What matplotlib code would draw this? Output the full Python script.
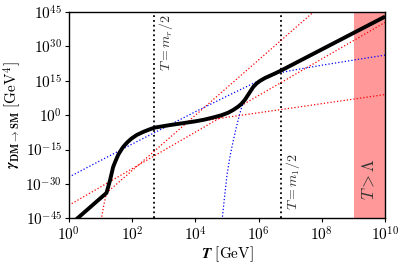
import numpy as np
import matplotlib
matplotlib.use("Agg")
import matplotlib.pyplot as plt
from matplotlib.ticker import FixedLocator, FuncFormatter, NullLocator

plt.rcParams['mathtext.fontset'] = 'cm'
plt.rcParams['font.family'] = ['DejaVu Serif']

# ---- data (log10 T, log10 gamma) ----
black_logT = [0.0, 1.19, 1.30, 1.40, 1.46, 1.56, 1.67, 1.72, 1.85, 1.98, 2.15, 2.35, 2.55, 2.72,
              3.2, 3.6, 3.99, 4.15, 4.3, 4.62, 4.83, 5.04, 5.2, 5.36, 5.46, 5.57, 5.65, 5.73,
              5.83, 5.94, 6.05, 6.2, 6.36, 6.52, 6.7, 10.0]
black_logG = [-48.25, -33.9, -28.5, -22.6, -20.5, -17.3, -14.8, -13.8, -11.8, -10.2, -8.6, -7.3, -6.2, -5.4,
              -4.3, -3.5, -2.7, -2.3, -1.9, -0.8, 0.0, 1.1, 2.3, 3.8, 5.0, 6.8, 8.5, 10.2,
              12.3, 13.9, 15.0, 16.2, 17.2, 18.2, 19.4, 43.0]

# red power laws
red1_logT = [0.0, 7.9]
red1_logG = [-48.25, 47.0]
red2_logT = [0.0, 10.0]
red2_logG = [-39.3, 40.5]
# red curve: Boltzmann rise then T^2-like tail
red3_logT = [0.98, 1.03, 1.10, 1.19, 1.30, 1.40, 1.56, 1.72, 1.98, 2.35, 2.72, 3.2, 10.0]
red3_logG = [-50.0, -45.0, -39.5, -33.9, -28.6, -22.8, -17.5, -14.0, -10.4, -7.5, -5.8, -4.5, 9.0]

# blue curves
blue1_logT = [0.0, 2.0, 4.0, 5.0, 6.0, 6.3, 6.6, 7.0, 8.0, 10.0]
blue1_logG = [-27.0, -12.6, 1.5, 8.3, 15.0, 16.8, 18.3, 19.4, 21.8, 26.2]
blue2_logT = [4.82, 4.85, 4.92, 5.0, 5.1, 5.2, 5.3, 5.4, 5.47, 5.57, 5.65, 5.73, 5.83, 5.94,
              6.05, 6.2, 6.36, 6.52, 6.7, 10.0]
blue2_logG = [-50.0, -45.0, -36.0, -26.0, -17.5, -11.0, -5.0, 0.5, 3.6, 6.6, 8.3, 10.0, 12.1, 13.7,
              14.8, 16.0, 17.0, 18.0, 19.2, 42.8]

T_vlines = [5e2, 5e6]
vline_labels = [r'$T = m_r/2$', r'$T = m_1/2$']
shade_range = [1e9, 1e10]
shade_label = r'$T > \Lambda$'

xticks = [1e0, 1e2, 1e4, 1e6, 1e8, 1e10]
yticks = [1e-45, 1e-30, 1e-15, 1e0, 1e15, 1e30, 1e45]


def P(a):
    return np.power(10.0, np.asarray(a, dtype=float))


fig = plt.figure(figsize=(4.05, 2.66), dpi=100)
ax = fig.add_axes([0.170, 0.179, 0.781, 0.776])

ax.axvspan(shade_range[0], shade_range[1], color='red', alpha=0.4, lw=0, zorder=0)

ax.plot(P(red1_logT), P(red1_logG), ls=':', color='red', lw=0.9, zorder=2)
ax.plot(P(red2_logT), P(red2_logG), ls=':', color='red', lw=0.9, zorder=2)
ax.plot(P(red3_logT), P(red3_logG), ls=':', color='red', lw=0.9, zorder=2)
ax.plot(P(blue1_logT), P(blue1_logG), ls=':', color='blue', lw=0.9, zorder=2)
ax.plot(P(blue2_logT), P(blue2_logG), ls=':', color='blue', lw=0.9, zorder=2)
ax.plot(P(black_logT), P(black_logG), color='black', lw=2.8, zorder=3, solid_capstyle='butt')

for xv in T_vlines:
    ax.axvline(xv, color='black', ls=':', lw=1.3, zorder=1)

ax.text(6.2e2, 1e44, vline_labels[0], rotation=90, ha='left', va='top', fontsize=10, color='#333333')
ax.text(6.2e6, 3e-42, vline_labels[1], rotation=90, ha='left', va='bottom', fontsize=10, color='#333333')
ax.text(3.2e9, 1e-28, shade_label, rotation=90, ha='center', va='center', fontsize=12, color='#333333')

ax.set_xscale('log')
ax.set_yscale('log')
ax.set_xlim(1e0, 1e10)
ax.set_ylim(1e-45, 1e45)
ax.xaxis.set_major_locator(FixedLocator(xticks))
ax.yaxis.set_major_locator(FixedLocator(yticks))
ax.xaxis.set_minor_locator(NullLocator())
ax.yaxis.set_minor_locator(NullLocator())
fmt = FuncFormatter(lambda v, p: r'$10^{%d}$' % int(round(np.log10(v))))
ax.xaxis.set_major_formatter(fmt)
ax.yaxis.set_major_formatter(fmt)
ax.tick_params(labelsize=11, length=3, width=0.8, pad=2)
for s in ax.spines.values():
    s.set_linewidth(1.0)

ax.set_xlabel(r'$\boldsymbol{T}\ \mathrm{[GeV]}$', fontsize=11, labelpad=1)
ax.set_ylabel(r'$\boldsymbol{\gamma}_{\mathbf{DM\to SM}}\ \mathrm{[GeV^4]}$', fontsize=11, labelpad=2)

try:
    fig.savefig('out.png', dpi=100)
except Exception:
    ax.set_xlabel(r'$\mathbf{T}\ \mathrm{[GeV]}$', fontsize=11, labelpad=1)
    ax.set_ylabel(r'$\mathbf{\gamma}_{\mathbf{DM\to SM}}\ \mathrm{[GeV^4]}$', fontsize=11, labelpad=2)
    fig.savefig('out.png', dpi=100)
